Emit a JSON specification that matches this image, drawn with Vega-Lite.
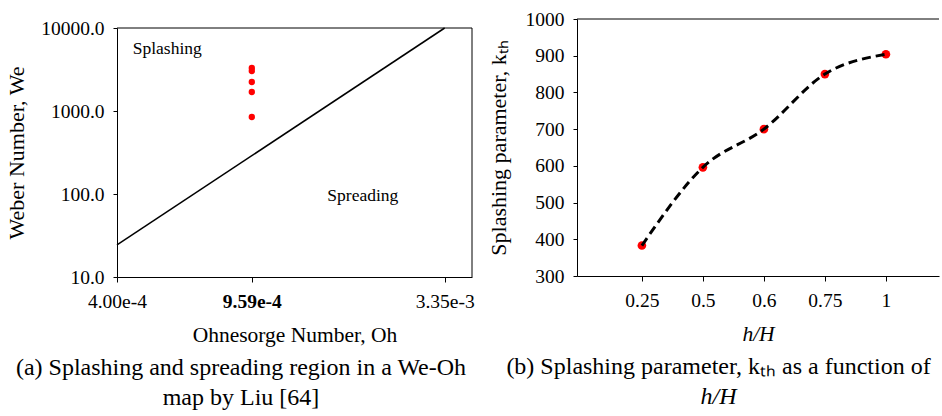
{
  "$schema": "https://vega.github.io/schema/vega-lite/v6.json",
  "background": "white",
  "padding": {"left": 5, "top": 9, "right": 0, "bottom": 0},
  "bounds": "flush",
  "spacing": 105,
  "config": {
    "font": "Liberation Serif",
    "view": {"stroke": null},
    "axis": {
      "labelFont": "Liberation Serif",
      "titleFont": "Liberation Serif",
      "labelFontSize": 19.5,
      "titleFontSize": 22,
      "labelColor": "#000",
      "titleColor": "#000",
      "titleFontWeight": "normal",
      "domainColor": "#000",
      "tickColor": "#000",
      "grid": false,
      "labelAngle": 0,
      "labelFlush": false,
      "labelOverlap": false,
      "labelSeparation": 0,
      "labelBound": false
    },
    "title": {
      "font": "Liberation Serif",
      "fontSize": 24,
      "fontWeight": "normal",
      "color": "#000",
      "subtitleFont": "Liberation Serif",
      "subtitleFontSize": 24,
      "subtitleColor": "#000"
    }
  },
  "hconcat": [
    {
      "width": 355,
      "height": 258,
      "title": {
        "text": "(a) Splashing and spreading region in a We-Oh",
        "subtitle": "map by Liu [64]",
        "orient": "bottom",
        "anchor": "middle",
        "frame": "group",
        "dx": -53.5,
        "offset": 10.5,
        "subtitlePadding": 6
      },
      "layer": [
        {
          "data": {"values": [{"Oh": 0.0004, "We": 24.3}, {"Oh": 0.00335, "We": 10000}]},
          "mark": {"type": "line", "color": "#000", "strokeWidth": 1.5},
          "encoding": {
            "x": {
              "field": "Oh",
              "type": "quantitative",
              "scale": {"type": "log", "domain": [0.0004, 0.004], "nice": false},
              "axis": {
                "title": "Ohnesorge Number, Oh",
                "titleFontSize": 21.5,
                "values": [0.0004, 0.000959, 0.00335],
                "format": ".2e",
                "tickSize": 5,
                "labelPadding": 10,
                "titlePadding": 13.5,
                "labelOverlap": false,
                "labelFontWeight": {"condition": {"test": "datum.value > 0.0009 && datum.value < 0.001", "value": "bold"}, "value": "normal"}
              }
            },
            "y": {
              "field": "We",
              "type": "quantitative",
              "scale": {"type": "log", "domain": [10, 10000], "nice": false, "range": [258, 9]},
              "axis": {
                "title": "Weber Number, We",
                "values": [10, 100, 1000, 10000],
                "format": ".1f",
                "tickSize": 4,
                "labelPadding": 9,
                "titlePadding": 12,
                "labelOverlap": false
              }
            }
          }
        },
        {
          "data": {"values": [
            {"Oh": 0.000959, "We": 3296},
            {"Oh": 0.000959, "We": 3033},
            {"Oh": 0.000959, "We": 2235},
            {"Oh": 0.000959, "We": 1694},
            {"Oh": 0.000959, "We": 847}
          ]},
          "mark": {"type": "circle", "color": "#ff0000", "size": 40, "opacity": 1},
          "encoding": {
            "x": {"field": "Oh", "type": "quantitative"},
            "y": {"field": "We", "type": "quantitative"}
          }
        },
        {
          "data": {"values": [
            {"Oh": 0.000443, "We": 4820, "label": "Splashing"},
            {"Oh": 0.001565, "We": 82.4, "label": "Spreading"}
          ]},
          "mark": {"type": "text", "align": "left", "baseline": "alphabetic", "font": "Liberation Serif", "fontSize": 17.5, "color": "#000"},
          "encoding": {
            "x": {"field": "Oh", "type": "quantitative"},
            "y": {"field": "We", "type": "quantitative"},
            "text": {"field": "label"}
          }
        },
        {
          "data": {"values": [{}]},
          "mark": {"type": "rule", "color": "#000", "strokeWidth": 1},
          "encoding": {"y": {"datum": 10000, "type": "quantitative"}}
        },
        {
          "data": {"values": [{}]},
          "mark": {"type": "rule", "color": "#000", "strokeWidth": 1},
          "encoding": {
            "x": {"datum": 0.004, "type": "quantitative"},
            "y": {"datum": 10, "type": "quantitative"},
            "y2": {"datum": 10000}
          }
        }
      ]
    },
    {
      "width": 362,
      "height": 257,
      "title": {
        "text": "(b) Splashing parameter, kₜₕ as a function of",
        "subtitle": "h/H",
        "subtitleFontStyle": "italic",
        "orient": "bottom",
        "anchor": "middle",
        "frame": "group",
        "dx": -39.5,
        "offset": 10.5,
        "subtitlePadding": 6
      },
      "layer": [
        {
          "data": {"values": [
            {"hH": "0.25", "k": 383},
            {"hH": "0.5", "k": 596},
            {"hH": "0.6", "k": 700},
            {"hH": "0.75", "k": 850},
            {"hH": "1", "k": 904}
          ]},
          "encoding": {
            "x": {
              "field": "hH",
              "type": "ordinal",
              "sort": null,
              "scale": {"type": "point", "padding": 0.967, "align": 0.55},
              "axis": {
                "title": "h/H",
                "titleFontStyle": "italic",
                "titleFontSize": 21.5,
                "tickSize": 5,
                "labelPadding": 10,
                "titlePadding": 13.5
              }
            },
            "y": {
              "field": "k",
              "type": "quantitative",
              "scale": {"domain": [300, 1000], "nice": false},
              "axis": {
                "title": "Splashing parameter, kₜₕ",
                "values": [300, 400, 500, 600, 700, 800, 900, 1000],
                "format": "d",
                "tickCount": 8,
                "tickSize": 4,
                "labelPadding": 9,
                "titlePadding": 15,
                "labelOverlap": false,
                "labelSeparation": 0,
                "labelBound": false
              }
            }
          },
          "layer": [
            {"mark": {"type": "circle", "color": "#ff0000", "size": 75, "opacity": 1}},
            {"mark": {"type": "line", "color": "#000", "strokeWidth": 3, "strokeDash": [9, 5], "interpolate": "monotone"}}
          ]
        },
        {
          "data": {"values": [{}]},
          "mark": {"type": "rule", "color": "#000", "strokeWidth": 1},
          "encoding": {"y": {"datum": 1000, "type": "quantitative"}}
        }
      ]
    }
  ]
}
